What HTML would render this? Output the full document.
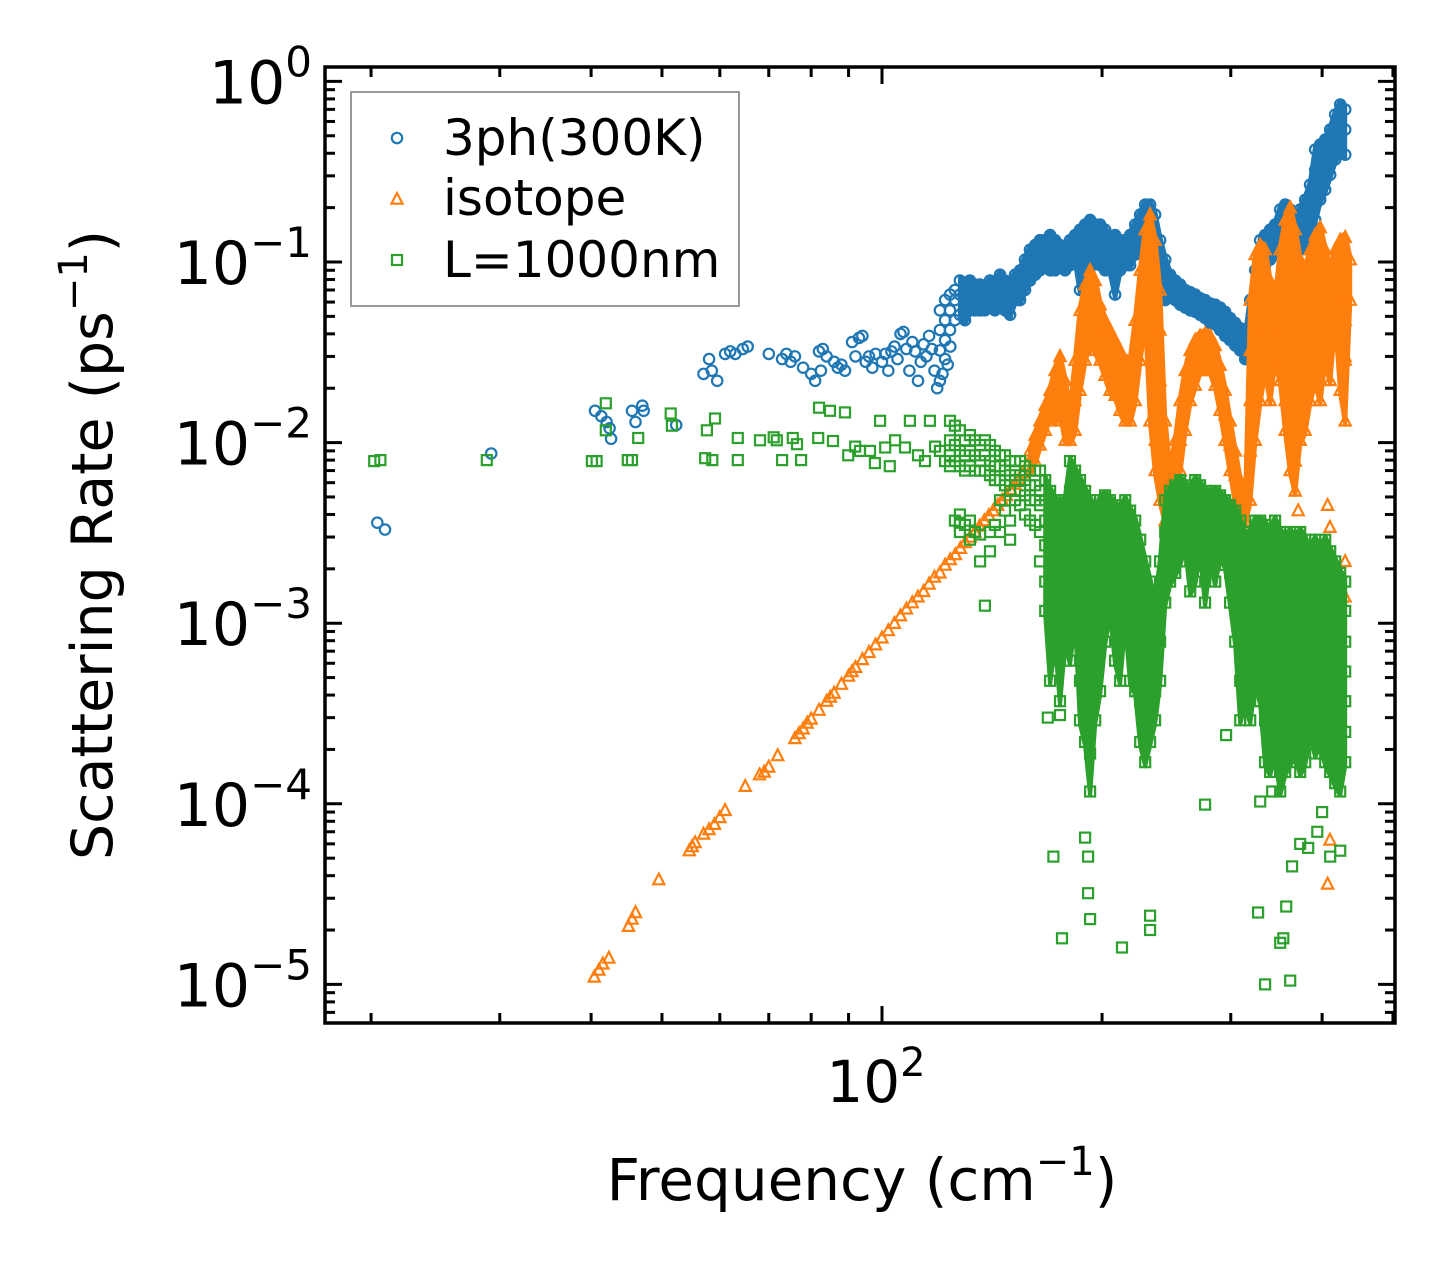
<!DOCTYPE html>
<html><head><meta charset="utf-8"><title>Scattering Rate vs Frequency</title>
<style>
html,body{margin:0;padding:0;background:#fff;}
svg{display:block;font-family:"DejaVu Sans","Liberation Sans",sans-serif;}
</style></head>
<body>
<svg id="chart" width="1455" height="1273" viewBox="0 0 1455 1273" xmlns="http://www.w3.org/2000/svg">
<rect x="0" y="0" width="1455" height="1273" fill="#fff"/>
<g id="marks"></g>
<g id="axes"></g>
</svg>
<script>
// ---- data ----
const phEarlyF=[20.4,20.9,29.2,40.5,41.3,42,42.4,42.6,45.5,46,47,47.2,52.3,57,58,58.5,59.5,61,62,63,64.5,65.5,70,73,74,75,76,78,80,81,82,82.5,83,84,86,87,88,89,91,92,93,94,95,96,97,98,100,101,102,103,104,105,106,107,108,109,110,111,112,113,114,115,116,117,118,119,120,121,122,123,124];
const phEarlyR=[0.0036,0.0033,0.0087,0.015,0.014,0.013,0.012,0.0105,0.015,0.013,0.016,0.015,0.0125,0.024,0.029,0.025,0.022,0.031,0.032,0.031,0.033,0.034,0.031,0.029,0.031,0.028,0.03,0.026,0.024,0.022,0.032,0.025,0.033,0.03,0.028,0.026,0.027,0.025,0.036,0.03,0.038,0.039,0.028,0.03,0.026,0.031,0.028,0.031,0.025,0.032,0.034,0.029,0.04,0.041,0.033,0.025,0.036,0.032,0.022,0.028,0.035,0.03,0.039,0.033,0.025,0.02,0.022,0.024,0.029,0.027,0.034];
const phBandF=[120,122,123.9,125.8,127.8,129.9,131.9,134,136.2,138.3,140.5,142.7,145,147.3,149.7,152.1,154.5,156.9,159.4,162,164.5,167.2,169.8,172.5,175.2,178,180.8,183.7,186.6,189.6,192.6,195.7,198.8,201.9,205.1,208.4,211.7,215.1,218.5,222,225.5,229.1,232.7,236.4,240.1,244,247.8,251.8,255.8,259.9,264,268.2,272.4,276.7,281.1,285.6,290.1,294.7,299.4,304.2,309,313.9,318.9,324,329.1,334.3,339.6,345,350.5,356.1,361.7,367.5,373.3,379.2,385.2,391.4,397.6,403.9,410.3,416.8,423.4,430.2];
const phBandR=[[0.054,0.042,0.0324],[0.0615,0.0476,0.0369],[0.066,0.054,0.042],[0.070,0.0615,0.0476],[0.079,0.066,0.051],[0.075,0.0615,0.0476],[0.079,0.066,0.054],[0.075,0.0615,0.054],[0.075,0.066,0.054],[0.070,0.0615,0.054],[0.079,0.066,0.058],[0.075,0.0615,0.054],[0.085,0.070,0.058],[0.079,0.066,0.054],[0.075,0.0615,0.051],[0.085,0.070,0.0615],[0.090,0.075,0.0615],[0.103,0.085,0.070],[0.117,0.096,0.079],[0.124,0.103,0.085],[0.132,0.110,0.090],[0.132,0.117,0.096],[0.141,0.117,0.090],[0.132,0.110,0.090],[0.124,0.110,0.096],[0.117,0.103,0.090],[0.132,0.110,0.096],[0.141,0.117,0.103],[0.151,0.124,0.103,0.070],[0.161,0.132,0.110,0.075],[0.171,0.141,0.110,0.079],[0.161,0.132,0.103],[0.161,0.124,0.096],[0.151,0.117,0.090],[0.132,0.110,0.090],[0.141,0.117,0.090,0.066],[0.132,0.110,0.090],[0.132,0.117,0.096],[0.141,0.117,0.096],[0.161,0.132,0.110],[0.183,0.151,0.117],[0.208,0.171,0.132],[0.208,0.183,0.141,0.103],[0.183,0.141,0.110],[0.132,0.103,0.079],[0.103,0.090,0.075,0.0615],[0.085,0.075,0.066],[0.079,0.070,0.0615],[0.075,0.066,0.058],[0.070,0.063,0.056],[0.068,0.0615,0.054],[0.066,0.059,0.053],[0.063,0.058,0.051],[0.0615,0.056,0.049],[0.059,0.053,0.046],[0.058,0.051,0.045],[0.056,0.049,0.042],[0.053,0.046,0.039],[0.049,0.043,0.0369],[0.046,0.040,0.0345],[0.043,0.038,0.0324],[0.039,0.0345,0.029],[0.0615,0.042,0.0324],[0.090,0.070,0.054],[0.132,0.103,0.079],[0.141,0.117,0.096],[0.151,0.124,0.103],[0.161,0.132,0.110],[0.195,0.151,0.124],[0.208,0.161,0.132],[0.195,0.161,0.124],[0.171,0.141,0.117],[0.195,0.151,0.117],[0.221,0.161,0.124],[0.268,0.208,0.151],[0.324,0.236,0.171,0.419],[0.447,0.324,0.221],[0.476,0.369,0.251],[0.541,0.419,0.304],[0.656,0.508,0.369],[0.745,0.577,0.419],[0.699,0.541,0.393]];

const isoLineF=[40.4,41,41.5,42.3,45,45.5,46,49.5,54.5,55,55.5,57,58,59,60,61,65,68,69,70,72,76,77,78,79,80,82,84,85,86,88,90,91,92,94,96,98,100,102,104,106,108,110,112,114,116,118,120,122,124,126,128,130,132,134,136,138,140,142,144,146,148,150,152,154,156,158];
const isoLineR=[1.1e-5,1.2e-5,1.3e-5,1.4e-5,2.1e-5,2.3e-5,2.5e-5,3.8e-5,5.5e-5,5.8e-5,6.1e-5,6.8e-5,7.2e-5,7.7e-5,8.4e-5,9.2e-5,1.25e-4,1.45e-4,1.5e-4,1.6e-4,1.85e-4,2.3e-4,2.45e-4,2.6e-4,2.8e-4,2.95e-4,3.3e-4,3.7e-4,3.9e-4,4.1e-4,4.6e-4,5.1e-4,5.4e-4,5.7e-4,6.3e-4,6.9e-4,7.6e-4,8.3e-4,9.1e-4,1.0e-3,1.1e-3,1.2e-3,1.3e-3,1.4e-3,1.5e-3,1.65e-3,1.8e-3,1.9e-3,2.1e-3,2.25e-3,2.4e-3,2.6e-3,2.8e-3,3.0e-3,3.2e-3,3.45e-3,3.7e-3,3.95e-3,4.2e-3,4.5e-3,4.8e-3,5.1e-3,5.5e-3,5.9e-3,6.3e-3,6.8e-3,7.5e-3];
const isoBandF=[159.4,162,164.5,167.2,169.8,172.5,175.2,178,180.8,183.7,186.6,189.6,192.6,195.7,198.8,201.9,205.1,208.4,211.7,215.1,218.5,222,225.5,229.1,232.7,236.4,240.1,244,247.8,251.8,255.8,259.9,264,268.2,272.4,276.7,281.1,285.6,290.1,294.7,299.4,304.2,309,313.9,318.9,324,329.1,334.3,339.6,345,350.5,356.1,361.7,367.5,373.3,379.2,385.2,391.4,397.6,403.9,410.3,416.8,423.4,430.2,437];
const isoBandR=[[0.009,0.007],[0.011,0.0079],[0.0132,0.0097],[0.0161,0.0117],[0.0195,0.0142],[0.0251,0.0183,0.0132],[0.030,0.0221,0.0151],[0.0221,0.0132,0.0103],[0.0151,0.0103],[0.0286,0.0171,0.0117],[0.054,0.0324,0.0195],[0.075,0.0476,0.0286],[0.090,0.0615,0.0369],[0.079,0.054,0.0324],[0.058,0.042,0.0286],[0.0476,0.0345,0.0236],[0.042,0.030,0.0195],[0.0369,0.0268,0.0183],[0.0324,0.0221,0.0151],[0.0286,0.0195,0.0132],[0.0286,0.0183,0.0132],[0.0476,0.0286,0.0171],[0.090,0.054,0.0286],[0.151,0.090,0.0476],[0.183,0.117,0.0615,0.0286,0.0132],[0.132,0.079,0.042,0.0221,0.0103,0.007],[0.070,0.042,0.0221,0.0132,0.007,0.0048],[0.0132,0.007,0.0037],[0.007,0.0048,0.0032],[0.0103,0.0062,0.0042],[0.0171,0.0103,0.007],[0.0251,0.0171,0.0117],[0.0324,0.0236,0.0171],[0.0369,0.0286,0.0208],[0.039,0.0324,0.0251],[0.040,0.0345,0.0268],[0.039,0.0324,0.0251],[0.0345,0.0268,0.0208],[0.0268,0.0208,0.0151],[0.0195,0.0142,0.0103],[0.0132,0.0097,0.007],[0.009,0.0066,0.0048],[0.0062,0.0045,0.0035],[0.0048,0.0037],[0.0615,0.0324,0.0171,0.009,0.0048],[0.110,0.070,0.042,0.0221,0.0103],[0.124,0.079,0.0476,0.0286,0.0171],[0.117,0.070,0.042,0.0251],[0.079,0.0476,0.0286,0.0171],[0.0615,0.042,0.0286],[0.117,0.070,0.042,0.0221],[0.171,0.103,0.0615,0.0324,0.0171,0.0117],[0.20,0.132,0.079,0.0476,0.0251,0.0132,0.007],[0.151,0.090,0.054,0.0286,0.0151,0.0079,0.0054],[0.103,0.0615,0.0369,0.0195,0.0103],[0.090,0.0615,0.0369,0.0221,0.0117],[0.117,0.079,0.0476,0.0286,0.0171],[0.141,0.090,0.0615,0.0369,0.0221],[0.155,0.103,0.0615,0.0324,0.0171],[0.117,0.079,0.0476,0.0286],[0.090,0.0615,0.0369,0.0221],[0.117,0.079,0.0476],[0.132,0.090,0.0615,0.0369,0.0195],[0.137,0.096,0.066,0.0476,0.0286,0.0132],[0.103,0.0615]];
const isoExtraF=[371,407,410,407,410,430,306,268,430,430];
const isoExtraR=[0.0042,0.0045,0.0034,3.6e-5,6.3e-5,0.03,0.0039,0.0042,0.0022,0.0014];

const bdyEarlyF=[20.2,20.6,28.8,40.1,40.7,41.9,41.9,44.9,45.5,46.4,51.4,51.6,57.3,57.6,59.1,58.6,63.5,63.5,68.1,71.1,71.8,73.0,75.5,76.5,77.5,82.0,81.8,84.9,85.7,89.0,89.9,91.9,93.3,96.3,97.8,99.4,101,102.5,104.2,107.5,109.2,112,114.5,116.3,118.2,120,122,138.3,127.8];
const bdyEarlyR=[0.0079,0.008,0.008,0.0079,0.0079,0.0165,0.0117,0.008,0.008,0.0106,0.0145,0.0124,0.0082,0.0117,0.0136,0.008,0.008,0.0106,0.0103,0.0107,0.0103,0.008,0.0106,0.0098,0.008,0.0156,0.0106,0.015,0.0102,0.0147,0.0085,0.0095,0.009,0.009,0.0077,0.0132,0.0094,0.0074,0.0103,0.0094,0.0132,0.0085,0.0079,0.0132,0.0095,0.009,0.0079,0.00125,0.0036];
const bdyBandF=[123.9,125.8,127.8,129.9,131.9,134,136.2,138.3,140.5,142.7,145,147.3,149.7,152.1,154.5,156.9,159.4,162,164.5,167.2,169.8,172.5,175.2,178,180.8,183.7,186.6,189.6,192.6,195.7,198.8,201.9,205.1,208.4,211.7,215.1,218.5,222,225.5,229.1,232.7,236.4,240.1,244,247.8,251.8,255.8,259.9,264,268.2,272.4,276.7,281.1,285.6,290.1,294.7,299.4,304.2,309,313.9,318.9,324,329.1,334.3,339.6,345,350.5,356.1,361.7,367.5,373.3,379.2,385.2,391.4,397.6,403.9,410.3,416.8,423.4,430.2];
const bdyBandR=[[0.0132,0.0103,0.0085,0.0074],[0.0124,0.0097,0.0079,0.0037],[0.0117,0.009,0.0074,0.004,0.0032],[0.0103,0.0085,0.007,0.0035],[0.011,0.009,0.0074,0.0037,0.0029],[0.0103,0.0085,0.007,0.0032],[0.0097,0.0079,0.007,0.0031,0.0022],[0.0103,0.0085,0.007],[0.0097,0.0079,0.0066,0.0032,0.0025],[0.009,0.0074,0.0062,0.0035],[0.0085,0.0074,0.0062,0.0048,0.0032],[0.0085,0.007,0.0058,0.0042],[0.0079,0.0066,0.0054,0.0037,0.0029],[0.0079,0.007,0.0062,0.0048],[0.0079,0.0066,0.0054,0.0045],[0.0074,0.0062,0.0051,0.004],[0.007,0.0058,0.0048,0.0037],[0.007,0.0058,0.0048,0.0035],[0.007,0.0054,0.0045,0.0032,0.0022],[0.0062,0.0048,0.0037,0.0027,0.0017,0.00117],[0.0054,0.0042,0.0032,0.0022,0.0015,0.00103,0.00048],[0.0048,0.0037,0.0027,0.0019,0.0013,0.00079],[0.0045,0.0032,0.0024,0.0017,0.00117,0.0007,0.00037],[0.0048,0.0035,0.0025,0.0018,0.0013,0.00079],[0.0079,0.0054,0.0037,0.0025,0.0017,0.00103,0.00062],[0.007,0.0048,0.0032,0.0022,0.0015,0.00103],[0.0062,0.0042,0.0029,0.0019,0.0013,0.00079,0.00048,0.00029],[0.0054,0.0037,0.0025,0.0017,0.00117,0.0007,0.00037,0.00022],[0.0048,0.0032,0.0022,0.0015,0.00103,0.00062,0.00037,0.00019,0.000117],[0.0042,0.0029,0.0019,0.0013,0.0009,0.00054,0.00029],[0.0048,0.0032,0.0022,0.0015,0.00103,0.0007,0.00042],[0.0051,0.0037,0.0027,0.0019,0.0013,0.00079],[0.0048,0.0035,0.0025,0.0018,0.00117],[0.0045,0.0032,0.0024,0.0017,0.00103,0.00062],[0.0042,0.0031,0.0022,0.0015,0.0009,0.00048],[0.0048,0.0032,0.0022,0.0015,0.00103],[0.0042,0.0029,0.0019,0.0013,0.00079,0.00048],[0.0037,0.0025,0.0017,0.00117,0.0007,0.00042],[0.0029,0.0019,0.0013,0.0009,0.00062,0.00037,0.00022],[0.0022,0.0015,0.00103,0.0007,0.00042,0.00025,0.00017],[0.0017,0.00117,0.00079,0.00054,0.00037,0.00022],[0.0013,0.0009,0.00062,0.00042,0.00029],[0.0022,0.0013,0.00079,0.00048],[0.0048,0.0032,0.0022,0.0013],[0.0054,0.0042,0.0032,0.0025,0.0017],[0.0058,0.0045,0.0035,0.0027,0.0019],[0.0062,0.0048,0.0037,0.0029,0.0022],[0.0058,0.0045,0.0035,0.0027],[0.0054,0.0042,0.0032,0.0025,0.0015],[0.0062,0.0048,0.0037,0.0027,0.0017],[0.0058,0.0045,0.0035,0.0025],[0.0054,0.0042,0.0032,0.0022,0.0013],[0.0051,0.004,0.0031,0.0022],[0.0054,0.0042,0.0032,0.0025,0.0017],[0.0051,0.004,0.0031,0.0024],[0.0048,0.0037,0.0029,0.0021],[0.0045,0.0035,0.0027,0.0019,0.0013],[0.0042,0.0032,0.0022,0.0013,0.00079],[0.0037,0.0025,0.0015,0.0009,0.00048,0.00029],[0.0029,0.0017,0.00103,0.00062,0.00037],[0.0032,0.0022,0.0013,0.00079,0.00048,0.00029],[0.0037,0.0027,0.0019,0.0013,0.00079,0.00048],[0.0037,0.0027,0.0019,0.0013,0.0009,0.00062,0.00037],[0.0035,0.0025,0.0017,0.00117,0.00079,0.00048,0.00029,0.00017],[0.0032,0.0022,0.0015,0.00103,0.0007,0.00042,0.00025,0.00015],[0.0037,0.0025,0.0017,0.00117,0.00079,0.00054,0.00032,0.00019],[0.0032,0.0022,0.0015,0.00103,0.0007,0.00048,0.00029,0.00017,0.000117],[0.0029,0.0019,0.0013,0.0009,0.00062,0.00037,0.00022,0.00015],[0.0032,0.0022,0.0015,0.00103,0.0007,0.00042,0.00025,0.00017],[0.0029,0.0019,0.0013,0.0009,0.00062,0.00042,0.00029,0.00019],[0.0032,0.0022,0.0015,0.00103,0.0007,0.00048,0.00032,0.00022,0.00015],[0.0029,0.0019,0.0013,0.0009,0.00062,0.00042,0.00029,0.00017],[0.0025,0.0017,0.00117,0.00079,0.00054,0.00037,0.00025],[0.0029,0.0019,0.0013,0.0009,0.00062,0.00042,0.00029,0.00019],[0.0025,0.0017,0.00117,0.00079,0.00054,0.00037,0.00022],[0.0029,0.0019,0.0013,0.0009,0.00062,0.00042,0.00029,0.00017],[0.0025,0.0017,0.00117,0.00079,0.00054,0.00037,0.00025,0.00015],[0.0022,0.0015,0.00103,0.0007,0.00048,0.00032,0.00022,0.00013],[0.0019,0.0013,0.0009,0.00062,0.00042,0.00029,0.00019,0.000117],[0.0017,0.00117,0.00079,0.00054,0.00037,0.00025,0.00017]];
const bdyOutF=[171.6,189.6,191.4,191.4,192.6,213,232.7,232.7,176.3,175.2,168.6,276.7,295.6,334.3,361.7,350.5,357.2,363.9,373.3,382.8,410.3,423.4,327,354,329.1,341.8,394,400];
const bdyOutR=[5.1e-5,6.5e-5,5.1e-5,3.2e-5,2.3e-5,1.6e-5,2.4e-5,2.0e-5,1.8e-5,3.1e-4,3.0e-4,9.9e-5,2.4e-4,1.0e-5,1.05e-5,1.7e-5,2.7e-5,4.5e-5,6.0e-5,5.7e-5,5.1e-5,5.5e-5,2.5e-5,1.8e-5,1.03e-4,1.17e-4,7e-5,9e-5];

const yTickExps=[0,-1,-2,-3,-4,-5];
const xMajorTicks=[100];
const xMinorTicks=[20,30,40,50,60,70,80,90,200,300,400,500];

// ---- scales ----
const PL=325,PR=1395,PT=67,PB=1023;
function xs(f){return 882+731*(Math.log10(f)-2);}
function ys(r){return 262-180.6*(Math.log10(r)+1);}

const NS="http://www.w3.org/2000/svg";
const marks=document.getElementById('marks');
const axes=document.getElementById('axes');
function el(tag,attrs,parent){const e=document.createElementNS(NS,tag);for(const k in attrs)e.setAttribute(k,attrs[k]);parent.appendChild(e);return e;}

const COLORS=["#1f77b4","#ff7f0e","#2ca02c"];
function marker(kind,cx,cy,parent){
  let e;
  if(kind===0){e=el('circle',{cx:cx.toFixed(1),cy:cy.toFixed(1),r:5.2,fill:'none',stroke:COLORS[0],'stroke-width':2.2},parent);}
  else if(kind===1){const s=6.2;e=el('polygon',{points:`${cx.toFixed(1)},${(cy-s).toFixed(1)} ${(cx-s*0.9).toFixed(1)},${(cy+s*0.75).toFixed(1)} ${(cx+s*0.9).toFixed(1)},${(cy+s*0.75).toFixed(1)}`,fill:'none',stroke:COLORS[1],'stroke-width':2.2},parent);}
  else {e=el('rect',{x:(cx-5).toFixed(1),y:(cy-5).toFixed(1),width:10,height:10,fill:'none',stroke:COLORS[2],'stroke-width':2.2},parent);}
  return e;
}

const clip=el('clipPath',{id:'plotclip'},document.getElementById('chart'));
el('rect',{x:PL,y:PT,width:PR-PL,height:PB-PT},clip);

// dense band envelope (min/max of each column's observed rates)
function envelope(kind,name,bandF,bandR,minF,parent){
  const top=[],bot=[];
  for(let i=0;i<bandF.length;i++){
    if(bandF[i]<minF)continue;
    const x=xs(bandF[i]);
    const hi=Math.max(...bandR[i]),lo=Math.min(...bandR[i]);
    top.push(`${x.toFixed(1)},${(ys(hi)-4).toFixed(1)}`);
    bot.unshift(`${x.toFixed(1)},${(ys(lo)+4).toFixed(1)}`);
  }
  const p=el('polygon',{points:top.concat(bot).join(' '),fill:COLORS[kind],stroke:COLORS[kind],'stroke-width':4,'stroke-linejoin':'round'},parent);
  
  
}

function series(kind,name,pointF,pointR,bandF,bandR,envMinF){
  const g=el('g',{'clip-path':'url(#plotclip)'},marks);
  
  
  envelope(kind,name,bandF,bandR,envMinF,g);
  for(let i=0;i<pointF.length;i++){
    const m=marker(kind,xs(pointF[i]),ys(pointR[i]),g);
    
    
  }
  for(let i=0;i<bandF.length;i++){
    for(const r of bandR[i]){
      const m=marker(kind,xs(bandF[i]),ys(r),g);
      
      
    }
  }
}
series(0,'series-3ph',phEarlyF,phEarlyR,phBandF,phBandR,127);
series(1,'series-isotope',isoLineF.concat(isoExtraF),isoLineR.concat(isoExtraR),isoBandF,isoBandR,159);
series(2,'series-boundary',bdyEarlyF.concat(bdyOutF),bdyEarlyR.concat(bdyOutR),bdyBandF,bdyBandR,165);

// ---- axes ----
const tickG=el('g',{stroke:'#000','stroke-width':3},axes);


for(let e=-6;e<=0;e++){
  for(let k=1;k<=9;k++){
    const v=k*Math.pow(10,e);const y=ys(v);
    if(y<PT+1||y>PB-1)continue;
    const len=k===1?17:10;
    el('line',{x1:PL,y1:y,x2:PL+len,y2:y},tickG);
    el('line',{x1:PR,y1:y,x2:PR-len,y2:y},tickG);
  }
}
for(const f of xMajorTicks){const x=xs(f);el('line',{x1:x,y1:PB,x2:x,y2:PB-17},tickG);el('line',{x1:x,y1:PT,x2:x,y2:PT+17},tickG);}
for(const f of xMinorTicks){const x=xs(f);if(x<PL||x>PR)continue;el('line',{x1:x,y1:PB,x2:x,y2:PB-10},tickG);el('line',{x1:x,y1:PT,x2:x,y2:PT+10},tickG);}

const frame=el('rect',{x:PL,y:PT,width:PR-PL,height:PB-PT,fill:'none',stroke:'#000','stroke-width':3.5},axes);



for(const e of yTickExps){
  const y=ys(Math.pow(10,e));
  const t=el('text',{x:312,y:y+22,'text-anchor':'end','font-size':60,fill:'#000'},axes);
  
  
  const a=el('tspan',{},t);a.textContent='10';
  const b=el('tspan',{'font-size':42,dy:-27},t);b.textContent=e===0?'0':'\u2212'+(-e);
}
for(const f of xMajorTicks){
  const t=el('text',{x:xs(f)-6,y:1102,'text-anchor':'middle','font-size':58,fill:'#000'},axes);
  
  
  const a=el('tspan',{},t);a.textContent='10';
  const b=el('tspan',{'font-size':40,dy:-26},t);b.textContent=String(Math.round(Math.log10(f)));
}
</script>
<svg style="position:absolute;left:0;top:0" width="1455" height="1273" xmlns="http://www.w3.org/2000/svg">
<text x="862" y="1200" text-anchor="middle" font-size="58" font-family="DejaVu Sans, Liberation Sans, sans-serif">Frequency (cm<tspan font-size="40" dy="-25">−1</tspan><tspan dy="25">)</tspan></text>
<text transform="translate(112,545) rotate(-90)" text-anchor="middle" font-size="57" font-family="DejaVu Sans, Liberation Sans, sans-serif">Scattering Rate (ps<tspan font-size="40" dy="-25">−1</tspan><tspan dy="25">)</tspan></text>
<g>
<rect x="351" y="92" width="388" height="214" fill="#fff" fill-opacity="0.8" stroke="#999" stroke-width="2"/>
<g>
<circle cx="397" cy="138" r="5.2" fill="none" stroke="#1f77b4" stroke-width="2.2"/>
<text x="443" y="155" font-size="50" font-family="DejaVu Sans, Liberation Sans, sans-serif">3ph(300K)</text></g>
<g>
<polygon points="397,193 391.4,203.7 402.6,203.7" fill="none" stroke="#ff7f0e" stroke-width="2.2"/>
<text x="443" y="215" font-size="50" font-family="DejaVu Sans, Liberation Sans, sans-serif">isotope</text></g>
<g>
<rect x="392" y="255" width="10" height="10" fill="none" stroke="#2ca02c" stroke-width="2.2"/>
<text x="443" y="277" font-size="50" font-family="DejaVu Sans, Liberation Sans, sans-serif">L=1000nm</text></g>
</g>
</svg>
</body></html>
